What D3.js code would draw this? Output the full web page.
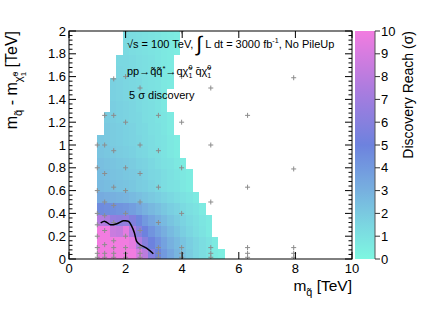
<!DOCTYPE html>
<html>
<head>
<meta charset="utf-8">
<script src="https://cdn.jsdelivr.net/npm/d3@7"></script>
<style>
  body { margin: 0; background: #fff; }
  text { font-family: "Liberation Sans", Arial, Helvetica, sans-serif; fill: #000; }
</style>
</head>
<body>
<div id="chart-area"></div>
<script>
const MARGIN = { LEFT: 69, RIGHT: 80, TOP: 31, BOTTOM: 51 }
const WIDTH = 432 - MARGIN.LEFT - MARGIN.RIGHT
const HEIGHT = 310 - MARGIN.TOP - MARGIN.BOTTOM

// histogram binning (TeV)
const xBinStart = 1.0, xBinWidth = 0.225
const yBinStart = -0.01, yBinHeight = 0.1

// discovery reach in sigma, one row per y bin (bottom row first), one entry per x bin
const n = null
const reachRows = [
  [10, 10, 10, 10, 10, 10, 9, 8, 6, 5, 4, 3.4, 2.8, 2.3, 1.9, 1.5, 1.2, 0.9, 0.6, 0.4],
  [10, 10, 10, 10, 10, 9.5, 7.5, 6, 5, 4.3, 3.6, 3.0, 2.6, 2.2, 1.8, 1.5, 1.2, 0.9, 0.6, n],
  [10, 10, 8.5, 8.3, 9.5, 7.5, 6, 5, 4.2, 3.6, 3.1, 2.6, 2.2, 1.8, 1.5, 1.2, 0.9, 0.6, n, n],
  [7.8, 7.5, 6.5, 6.3, 6.5, 5.8, 4.8, 4.0, 3.5, 3.0, 2.6, 2.2, 1.9, 1.6, 1.3, 1.1, 0.8, 0.6, n, n],
  [4.6, 4.5, 4.4, 4.2, 4.1, 3.8, 3.4, 3.0, 2.7, 2.4, 2.1, 1.8, 1.6, 1.3, 1.1, 0.9, 0.6, n, n, n],
  [3.2, 3.1, 3.0, 2.9, 2.8, 2.6, 2.4, 2.2, 2.0, 1.8, 1.6, 1.4, 1.2, 1.0, 0.8, 0.6, n, n, n, n],
  [2.6, 2.5, 2.4, 2.3, 2.2, 2.1, 1.9, 1.8, 1.6, 1.4, 1.2, 1.0, 0.9, 0.7, 0.5, n, n, n, n, n],
  [2.5, 2.4, 2.3, 2.2, 2.1, 2.0, 1.9, 1.7, 1.5, 1.4, 1.2, 1.0, 0.8, 0.7, 0.5, n, n, n, n, n],
  [2.4, 2.3, 2.2, 2.1, 2.0, 1.9, 1.7, 1.6, 1.4, 1.2, 1.0, 0.9, 0.7, 0.5, n, n, n, n, n, n],
  [2.2, 2.1, 2.0, 1.9, 1.8, 1.7, 1.5, 1.4, 1.2, 1.1, 0.9, 0.7, 0.5, n, n, n, n, n, n, n],
  [2.1, 2.0, 1.9, 1.8, 1.7, 1.6, 1.5, 1.3, 1.2, 1.0, 0.9, 0.7, 0.5, n, n, n, n, n, n, n],
  [n, 2.0, 1.9, 1.8, 1.7, 1.6, 1.4, 1.3, 1.1, 1.0, 0.8, 0.6, n, n, n, n, n, n, n, n],
  [n, 1.9, 1.8, 1.7, 1.6, 1.5, 1.4, 1.2, 1.1, 0.9, 0.8, 0.6, n, n, n, n, n, n, n, n],
  [n, n, 1.8, 1.7, 1.6, 1.5, 1.3, 1.2, 1.1, 0.9, 0.7, n, n, n, n, n, n, n, n, n],
  [n, n, 1.7, 1.6, 1.5, 1.4, 1.3, 1.2, 1.0, 0.9, 0.7, n, n, n, n, n, n, n, n, n],
  [n, n, 1.7, 1.6, 1.5, 1.4, 1.3, 1.1, 1.0, 0.9, 0.7, 0.6, n, n, n, n, n, n, n, n],
  [n, n, n, 1.5, 1.4, 1.3, 1.2, 1.1, 1.0, 0.9, 0.7, 0.6, n, n, n, n, n, n, n, n],
  [n, n, n, 1.4, 1.4, 1.3, 1.2, 1.1, 1.0, 0.8, 0.7, 0.6, n, n, n, n, n, n, n, n],
  [n, n, n, n, 1.3, 1.2, 1.1, 1.0, 0.9, 0.8, 0.7, 0.6, 0.5, n, n, n, n, n, n, n],
  [n, n, n, n, 1.3, 1.2, 1.1, 1.0, 0.9, 0.8, 0.7, 0.6, 0.5, n, n, n, n, n, n, n],
  [n, n, n, n, 1.2, 1.2, 1.1, 1.0, 0.9, 0.8, 0.7, 0.6, 0.5, n, n, n, n, n, n, n],
  [n, n, n, n, 1.2, 1.1, 1.0, 0.9, 0.9, 0.8, 0.7, 0.6, 0.5, n, n, n, n, n, n, n]
]

// 5 sigma contour
const contourMass = [1.12, 1.27, 1.47, 1.69, 1.92, 2.10, 2.21, 2.31, 2.39, 2.51, 2.74, 2.98]
const contourGap = [0.316, 0.33, 0.30, 0.31, 0.335, 0.33, 0.29, 0.23, 0.155, 0.125, 0.096, 0.046]

// scan points (squark mass, mass gap)
const scanMass = [1.0, 1.26, 1.58, 2.0, 2.51, 3.16, 3.98, 5.01, 6.31, 7.94]
const scanGap = [
  [1.0, 0.8, 0.6, 0.4, 0.3, 0.2, 0.1, 0.05, 0.015],
  [1.26, 1.0, 0.75, 0.5, 0.38, 0.25, 0.126, 0.05, 0.015],
  [1.58, 1.26, 0.95, 0.63, 0.47, 0.32, 0.16, 0.1, 0.05, 0.015],
  [2.0, 1.6, 1.2, 0.8, 0.6, 0.4, 0.2, 0.1, 0.05, 0.015],
  [1.5, 1.0, 0.75, 0.5, 0.25, 0.1, 0.05, 0.015],
  [1.26, 0.95, 0.63, 0.32, 0.1, 0.05, 0.015],
  [2.0, 1.6, 1.2, 0.8, 0.4, 0.1, 0.05, 0.015],
  [1.5, 1.0, 0.5, 0.1, 0.05, 0.015],
  [1.26, 0.63, 0.1, 0.05, 0.015],
  [1.59, 0.79, 0.1, 0.05, 0.015]
]

// palette
const paletteStops = [0, 1.5, 3, 5, 7.5, 10]
const paletteColors = ["#7ef7e1", "#7bd6e1", "#77b0df", "#6d82de", "#ad7cdf", "#f27ce0"]
const xTickValues = [0, 2, 4, 6, 8, 10]
const paletteTickValues = [0, 1, 2, 3, 4, 5, 6, 7, 8, 9, 10]

const svg = d3.select("#chart-area").append("svg")
  .attr("width", 432)
  .attr("height", 310)

const g = svg.append("g")
  .attr("transform", `translate(${MARGIN.LEFT}, ${MARGIN.TOP})`)

const x = d3.scaleLinear().domain([0, 10]).range([0, WIDTH])
const y = d3.scaleLinear().domain([0, 2]).range([HEIGHT, 0])
const color = d3.scaleLinear().domain(paletteStops).range(paletteColors).clamp(true)

g.append("clipPath").attr("id", "frame-clip")
  .append("rect").attr("width", WIDTH).attr("height", HEIGHT)

// cells
const cells = []
reachRows.forEach((row, r) => row.forEach((v, i) => {
  if (v !== null) cells.push({ i, r, v })
}))

g.append("g")
  .attr("clip-path", "url(#frame-clip)")
  .attr("shape-rendering", "crispEdges")
  .selectAll("rect")
  .data(cells)
  .enter().append("rect")
    .attr("x", d => x(xBinStart + d.i * xBinWidth))
    .attr("y", d => y(yBinStart + (d.r + 1) * yBinHeight))
    .attr("width", x(xBinWidth) - x(0))
    .attr("height", y(0) - y(yBinHeight))
    .attr("fill", d => color(d.v))

// scan points
const points = []
scanMass.forEach((m, k) => scanGap[k].forEach(dm => points.push([m, dm])))

g.append("g")
  .attr("clip-path", "url(#frame-clip)")
  .selectAll("path")
  .data(points)
  .enter().append("path")
    .attr("transform", d => `translate(${x(d[0])}, ${y(d[1])})`)
    .attr("d", "M-2.5,0H2.5M0,-2.5V2.5")
    .attr("stroke", "#8c8c8c")
    .attr("stroke-width", 1)

// 5 sigma contour
const line = d3.line()
  .x(d => x(d[0]))
  .y(d => y(d[1]))
  .curve(d3.curveCatmullRom)

g.append("path")
  .datum(contourMass.map((m, k) => [m, contourGap[k]]))
  .attr("d", line)
  .attr("fill", "none")
  .attr("stroke", "#000")
  .attr("stroke-width", 1.5)

// frame and ticks
g.append("rect")
  .attr("width", WIDTH).attr("height", HEIGHT)
  .attr("fill", "none").attr("stroke", "#000").attr("stroke-width", 1)

const yMajor = y.ticks(10)
const yMinor = d3.range(0, 51).map(k => k * 0.04)
const ticks = g.append("g").attr("stroke", "#000").attr("stroke-width", 1)

yMinor.forEach(v => {
  const major = yMajor.some(t => Math.abs(t - v) < 1e-6)
  const len = major ? 7 : 3.5
  ticks.append("line").attr("x1", 0).attr("x2", len).attr("y1", y(v)).attr("y2", y(v))
  ticks.append("line").attr("x1", WIDTH).attr("x2", WIDTH - len).attr("y1", y(v)).attr("y2", y(v))
})
xTickValues.forEach(v => {
  ticks.append("line").attr("x1", x(v)).attr("x2", x(v)).attr("y1", HEIGHT).attr("y2", HEIGHT - 7)
  ticks.append("line").attr("x1", x(v)).attr("x2", x(v)).attr("y1", 0).attr("y2", 7)
})

// tick labels
g.selectAll(".ylab").data(yMajor).enter().append("text")
  .attr("x", -3).attr("y", d => y(d) + 4.5)
  .attr("text-anchor", "end")
  .style("font-size", "13px")
  .text(d => d3.format("~g")(d))

g.selectAll(".xlab").data(xTickValues).enter().append("text")
  .attr("x", d => x(d)).attr("y", HEIGHT + 13.5)
  .attr("text-anchor", "middle")
  .style("font-size", "13px")
  .text(d => d)

// rich text helper: parts with optional level (em shift), scale and back-step
function rich(sel, parts, fs) {
  let level = 0
  parts.forEach(p => {
    const lvl = p.lvl || 0
    const s = p.s || 1
    const ts = sel.append("tspan")
      .attr("dy", (lvl - level) * fs)
      .style("font-size", (fs * s) + "px")
      .text(p.t)
    if (p.back) ts.attr("dx", -p.back * 0.556 * fs * s)
    level = lvl
  })
}

// axis titles
const xTitle = svg.append("text")
  .attr("x", MARGIN.LEFT + WIDTH).attr("y", 291)
  .attr("text-anchor", "end")
rich(xTitle, [
  { t: "m" }, { t: "q̃", lvl: 0.3, s: 0.7 }, { t: " [TeV]" }
], 15.5)

const yTitle = svg.append("text")
  .attr("transform", "translate(17, 31) rotate(-90)")
  .attr("text-anchor", "end")
rich(yTitle, [
  { t: "m" }, { t: "q̃", lvl: 0.3, s: 0.7 }, { t: " - m" },
  { t: "χ̃", lvl: 0.3, s: 0.7 }, { t: "1", lvl: 0.55, s: 0.5 }, { t: "0", lvl: 0.05, s: 0.5, back: 1 },
  { t: " [TeV]" }
], 16)

// palette
const px = MARGIN.LEFT + WIDTH + 3, pw = 20
const pal = d3.scaleLinear().domain([0, 10]).range([MARGIN.TOP + HEIGHT, MARGIN.TOP])
const grad = svg.append("defs").append("linearGradient")
  .attr("id", "pal-grad").attr("x1", 0).attr("y1", 1).attr("x2", 0).attr("y2", 0)
d3.range(0, 10.01, 0.5).forEach(v => {
  grad.append("stop").attr("offset", v / 10).attr("stop-color", color(v))
})
svg.append("rect")
  .attr("x", px).attr("y", MARGIN.TOP)
  .attr("width", pw).attr("height", HEIGHT)
  .attr("fill", "url(#pal-grad)")
svg.append("line")
  .attr("x1", px + pw).attr("x2", px + pw)
  .attr("y1", MARGIN.TOP).attr("y2", MARGIN.TOP + HEIGHT)
  .attr("stroke", "#555")
svg.selectAll(".ptick").data(paletteTickValues).enter().append("line")
  .attr("x1", px + pw).attr("x2", px + pw + 5)
  .attr("y1", d => pal(d)).attr("y2", d => pal(d))
  .attr("stroke", "#333")
svg.selectAll(".plab").data(paletteTickValues).enter().append("text")
  .attr("x", px + pw + 6).attr("y", d => pal(d) + 4.5)
  .style("font-size", "13px")
  .text(d => d)

svg.append("text")
  .attr("transform", `translate(413, ${MARGIN.TOP}) rotate(-90)`)
  .attr("text-anchor", "end")
  .style("font-size", "14px")
  .text("Discovery Reach (σ)")

// annotations
const t1 = svg.append("text").attr("x", 127).attr("y", 48)
rich(t1, [
  { t: "√s = 100 TeV, " }, { t: "∫", lvl: 0.3, s: 1.9 }, { t: " L dt = 3000 fb" },
  { t: "-1", lvl: -0.45, s: 0.65 }, { t: ", No PileUp" }
], 11)

const t2 = svg.append("text").attr("x", 127).attr("y", 75)
rich(t2, [
  { t: "pp→q̃q̃" }, { t: "*", lvl: -0.4, s: 0.7 }, { t: "→qχ̃" },
  { t: "1", lvl: 0.3, s: 0.65 }, { t: "0", lvl: -0.45, s: 0.65, back: 1 },
  { t: " q̄χ̃" },
  { t: "1", lvl: 0.3, s: 0.65 }, { t: "0", lvl: -0.45, s: 0.65, back: 1 }
], 11)

svg.append("text").attr("x", 129).attr("y", 99)
  .style("font-size", "11px")
  .text("5 σ discovery")
</script>
</body>
</html>
